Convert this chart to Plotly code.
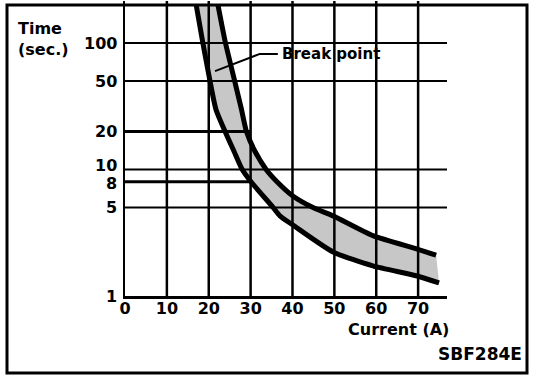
import math
import plotly.graph_objects as go

# ---- data ----
UPPER_A = [22.2, 24.0, 26.2, 27.8, 29.0, 31.0, 33.7, 36.3, 40.0, 44.9, 49.7, 59.2, 69.8, 74.3]
UPPER_T = [200, 100, 50, 30, 20, 14, 10, 8, 6.2, 5.0, 4.3, 3.0, 2.35, 2.1]
LOWER_A = [17.0, 18.6, 20.3, 21.7, 23.9, 26.0, 28.0, 30.1, 35.4, 37.0, 40.1, 49.7, 59.2, 69.8, 75.0]
LOWER_T = [200, 100, 50, 30, 20, 14, 10, 8, 5.0, 4.3, 3.64, 2.23, 1.73, 1.44, 1.27]

X_TICKS = [0, 10, 20, 30, 40, 50, 60, 70]
Y_TICKS = [1, 5, 8, 10, 20, 50, 100]
Y_TICK_TEXT = ["1", "5", "8", "10", "20", "50", "100"]
Y_TICK_NUDGE = [0, 0, -2, 4, 0, 0, 0]   # px, small vertical nudges of the labels
FULL_LEVELS = [5, 10, 50, 100]
MARK_LEVELS = [8, 20]
MARK_CURRENT = 30
X_MAX = 76.9
T_MIN, T_MAX = 1, 10 ** 2.332

LEADER_A = [21.5, 32.2, 36.5]
LEADER_T = [60, 82, 82]
LABEL = "Break point"

FONT = dict(family="DejaVu Sans", color="black", weight="bold")

fig = go.Figure()

# band fill (stippled)
fig.add_trace(go.Scatter(
    x=UPPER_A + LOWER_A[::-1], y=UPPER_T + LOWER_T[::-1],
    mode="lines", fill="toself", line=dict(width=0, color="black"),
    fillcolor="white",
    fillpattern=dict(shape=".", fgcolor="#000000", bgcolor="#ffffff", size=2, solidity=0.5),
    hoverinfo="skip", showlegend=False))

# horizontal grid lines
for v in FULL_LEVELS:
    fig.add_trace(go.Scatter(x=[0, X_MAX], y=[v, v], mode="lines",
                             line=dict(color="black", width=2), showlegend=False, hoverinfo="skip"))
for v in MARK_LEVELS:
    fig.add_trace(go.Scatter(x=[0, MARK_CURRENT], y=[v, v], mode="lines",
                             line=dict(color="black", width=3), showlegend=False, hoverinfo="skip"))
# vertical grid lines (drawn over the band)
for a in X_TICKS[1:]:
    fig.add_trace(go.Scatter(x=[a, a], y=[T_MIN, T_MAX], mode="lines",
                             line=dict(color="black", width=2.5), showlegend=False, hoverinfo="skip"))

# boundary curves
fig.add_trace(go.Scatter(x=UPPER_A, y=UPPER_T, mode="lines",
                         line=dict(color="black", width=5, shape="spline", smoothing=0.6),
                         showlegend=False, hoverinfo="skip"))
fig.add_trace(go.Scatter(x=LOWER_A, y=LOWER_T, mode="lines",
                         line=dict(color="black", width=5, shape="spline", smoothing=0.6),
                         showlegend=False, hoverinfo="skip"))

# leader for "Break point"
fig.add_trace(go.Scatter(x=LEADER_A, y=LEADER_T, mode="lines",
                         line=dict(color="black", width=2), showlegend=False, hoverinfo="skip"))

W, H = 544, 382
L, R, T, B = 125, 97, 1, 86
pw, ph = W - L - R, H - T - B


def px_x(p):
    return (p - L) / pw


def px_y(p):
    return (H - B - p) / ph


annotations = [
    dict(text="Time<br>(sec.)", xref="paper", yref="paper", x=px_x(16), y=px_y(17),
         xanchor="left", yanchor="top", align="left", showarrow=False,
         font=dict(size=16, **FONT)),
    dict(text="Current (A)", xref="paper", yref="paper", x=px_x(451), y=px_y(329),
         xanchor="right", yanchor="middle", showarrow=False, font=dict(size=16, **FONT)),
    dict(text="SBF284E", xref="paper", yref="paper", x=px_x(524), y=px_y(354),
         xanchor="right", yanchor="middle", showarrow=False, font=dict(size=17, **FONT)),
    dict(text=LABEL, xref="x", yref="y", x=LEADER_A[-1], y=math.log10(LEADER_T[-1]),
         xanchor="left", yanchor="middle", xshift=2, showarrow=False,
         font=dict(size=15, **FONT)),
]
for v, txt, dy in zip(Y_TICKS, Y_TICK_TEXT, Y_TICK_NUDGE):
    annotations.append(dict(text=txt, xref="paper", yref="y", x=0, y=math.log10(v),
                            xanchor="right", yanchor="middle", xshift=-6, yshift=dy,
                            showarrow=False, font=dict(size=16, **FONT)))

fig.update_layout(
    width=W, height=H,
    margin=dict(l=L, r=R, t=T, b=B),
    paper_bgcolor="white", plot_bgcolor="white",
    font=dict(size=16, **FONT),
    xaxis=dict(range=[0, X_MAX], tickvals=X_TICKS, showgrid=False, zeroline=False,
               showline=True, linecolor="black", linewidth=3, ticks="", ticklen=0,
               tickfont=dict(size=16, **FONT), ticklabelstandoff=-4),
    yaxis=dict(type="log", range=[0, math.log10(T_MAX)], tickvals=Y_TICKS,
               showticklabels=False, showgrid=False, zeroline=False, showline=True,
               linecolor="black", linewidth=2, ticks=""),
    shapes=[dict(type="rect", xref="paper", yref="paper",
                 x0=px_x(7), x1=px_x(527), y0=px_y(373), y1=px_y(5),
                 line=dict(color="black", width=3), fillcolor="rgba(0,0,0,0)")],
    annotations=annotations,
)

fig.write_html("out.html", config={"displayModeBar": False},
               post_script="document.body.style.margin='0';")
